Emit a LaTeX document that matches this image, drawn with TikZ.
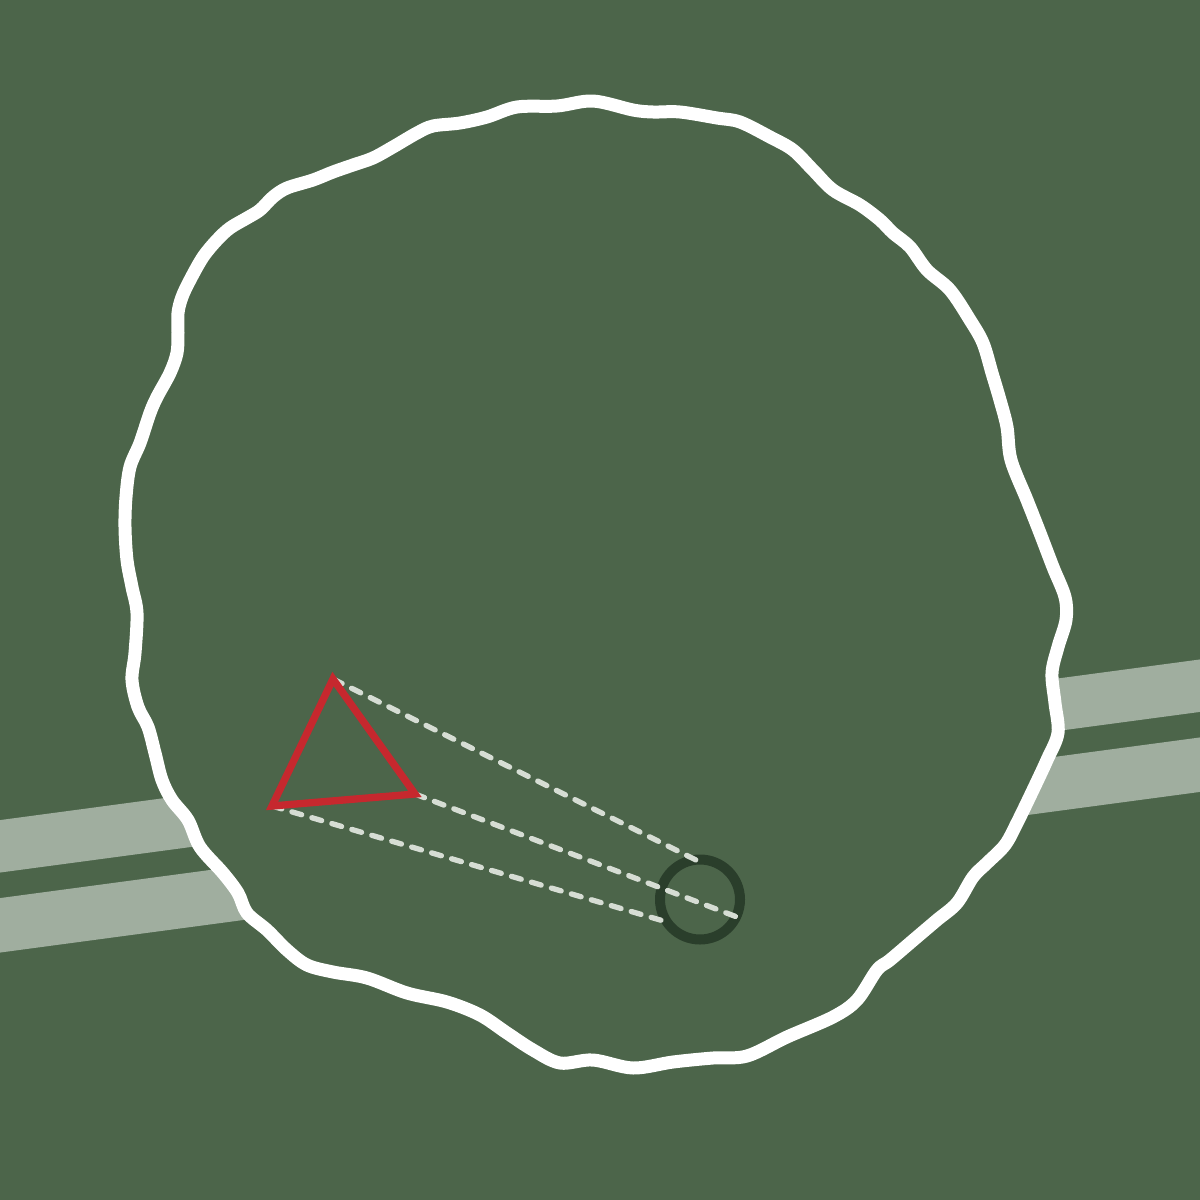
\documentclass[tikz,border=0pt]{standalone}
\definecolor{fieldgreen}{RGB}{76,101,74}
\definecolor{lanegray}{RGB}{160,174,159}
\definecolor{ringdark}{RGB}{42,62,43}
\definecolor{markred}{RGB}{198,40,46}
\definecolor{sightline}{RGB}{214,221,212}
\tikzset{every picture/.style={line width=0.75pt}}
\tikzset{sight/.style={sightline, line width=4pt, line cap=round, dash pattern={on 7.6pt off 8pt}}}
\begin{document}
\begin{tikzpicture}[x=0.75pt,y=0.75pt,yscale=-1,xscale=1]
%Shape: Rectangle (background)
\fill [fieldgreen] (0,0) rectangle (1200,1200);
\useasboundingbox (0,0) rectangle (1200,1200);

%Straight Lines (lanes)
\draw [lanegray, line width=39pt]    (-20,849) -- (1220,683) ;
\draw [lanegray, line width=40.5pt]  (-20,928) -- (1220,762) ;

%Shape: Polygon Curved (wavy boundary)
\filldraw [fill=fieldgreen, draw=white, line width=9.75pt, line join=round] plot [smooth cycle, tension=0.55] coordinates {
 (593,101) (633,110) (653,112) (680,112) (717,118) (740,122) (770,137) (793,150)
 (813,170) (833,190) (860,205) (880,220) (893,233) (910,247) (927,270) (950,290)
 (970,320) (983,343) (992,373) (1000,400) (1007,427) (1011,460) (1027,500)
 (1040,533) (1053,567) (1065,597) (1066,620) (1058,647) (1052,673) (1055,703)
 (1058,733) (1047,760) (1033,790) (1017,823) (1005,845) (987,863) (973,877)
 (957,903) (937,920) (917,937) (890,960) (877,970) (857,1000) (833,1017)
 (787,1037) (747,1056) (713,1058) (673,1062) (633,1068) (593,1060) (560,1063)
 (533,1050) (507,1033) (480,1015) (447,1002) (407,993) (367,978) (333,972)
 (307,965) (287,950) (267,930) (247,913) (238,893) (223,873) (200,847) (188,820)
 (172,800) (162,780) (155,753) (148,727) (138,707) (132,680) (135,653) (137,613)
 (132,587) (127,560) (125,527) (126,497) (130,467) (140,443) (150,413) (157,397)
 (170,373) (177,353) (178,333) (178,313) (182,297) (190,280) (203,257) (217,240)
 (230,228) (247,218) (260,210) (273,197) (287,188) (313,180) (333,172) (353,165)
 (373,158) (393,147) (417,133) (433,126) (460,123) (487,117) (517,107) (557,106)
};

%Shape: Circle (target)
\draw [ringdark, line width=7.5pt]  (700,899.5) circle [radius=30pt] ;

% Coordinates
\coordinate (topV) at (333,679);
\coordinate (leftV) at (272,806);
\coordinate (rightV) at (415,794);
\coordinate (topE) at (698,861);
\coordinate (leftE) at (667,922);
\coordinate (rightE) at (737,917);

%Straight Lines (sight lines)
\draw [sight]  (topV) -- (topE) ;
\draw [sight]  (rightV) -- (rightE) ;
\draw [sight]  (leftV) -- (leftE) ;

%Shape: Triangle
\draw [markred, line width=5.5pt, line join=miter]  (topV) -- (rightV) -- (leftV) -- cycle ;

\end{tikzpicture}
\end{document}
